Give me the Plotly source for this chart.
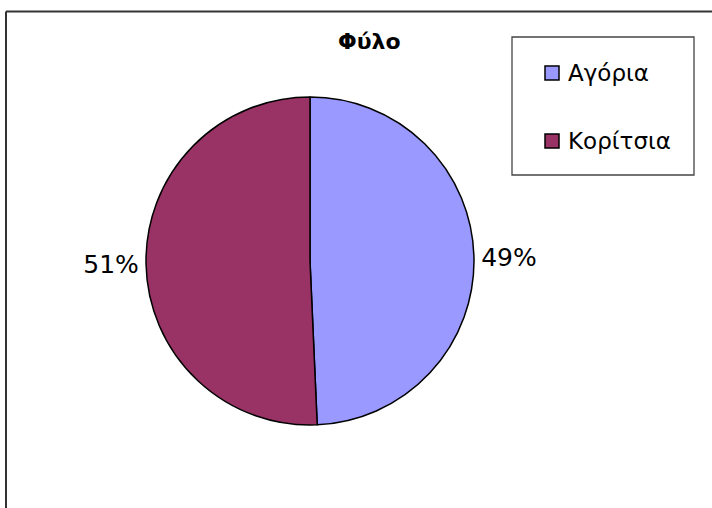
import plotly.graph_objects as go

labels = ["Αγόρια", "Κορίτσια"]
values = [49.3, 50.7]
colors = ["#9999FF", "#993366"]
title_text = "Φύλο"

W, H = 712, 508
FONT = "DejaVu Sans, Liberation Sans, Arial"

def px(x):
    return x / W

def py(y):
    return 1 - y / H

fig = go.Figure()
fig.add_trace(go.Pie(
    labels=labels,
    values=values,
    sort=False,
    direction="clockwise",
    rotation=0,
    marker=dict(colors=colors, line=dict(color="black", width=1.5)),
    textinfo="percent",
    texttemplate="%{percent:.0%}",
    textposition="outside",
    textfont=dict(family=FONT, size=25, color="black"),
    domain=dict(x=[px(146), px(474)], y=[py(425), py(97)]),
    showlegend=False,
    hoverinfo="label+percent",
))

shapes = [
    # chart area border (top and left visible)
    dict(type="line", xref="paper", yref="paper", x0=px(6), x1=1.01, y0=py(11.5), y1=py(11.5),
         line=dict(color="#333333", width=2)),
    dict(type="line", xref="paper", yref="paper", x0=px(6), x1=px(6), y0=py(11.5), y1=-0.01,
         line=dict(color="#333333", width=2)),
    # legend box
    dict(type="rect", xref="paper", yref="paper", x0=px(512), x1=px(694), y0=py(175), y1=py(37),
         line=dict(color="#444444", width=1.3), fillcolor="white"),
]
annotations = [
    dict(text="<b>" + title_text + "</b>", x=px(369), y=py(42), xref="paper", yref="paper",
         showarrow=False, xanchor="center", yanchor="middle",
         font=dict(family=FONT, size=22, color="black")),
]
leg_y = [73, 141]
for lab, col, yy in zip(labels, colors, leg_y):
    shapes.append(dict(type="rect", xref="paper", yref="paper",
                       x0=px(545), x1=px(559), y0=py(yy + 7), y1=py(yy - 7),
                       fillcolor=col, line=dict(color="black", width=1.5)))
    annotations.append(dict(text=lab, x=px(566), y=py(yy), xref="paper", yref="paper",
                            showarrow=False, xanchor="left", yanchor="middle",
                            font=dict(family=FONT, size=23, color="black")))

fig.update_layout(
    width=W, height=H,
    margin=dict(l=0, r=0, t=0, b=0),
    paper_bgcolor="white",
    plot_bgcolor="white",
    shapes=shapes,
    annotations=annotations,
)

fig.write_html("out.html")
